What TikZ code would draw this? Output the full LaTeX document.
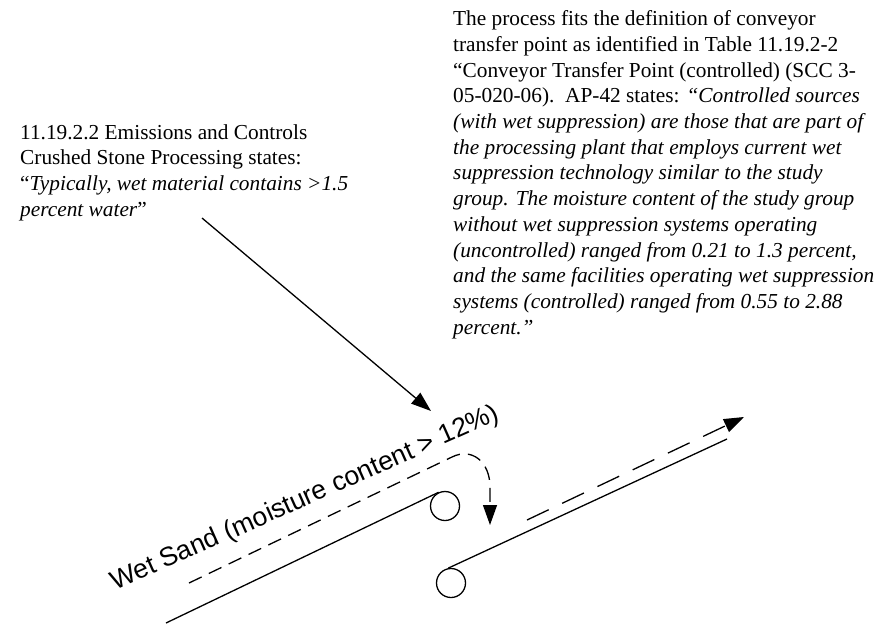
\documentclass[tikz,border=0pt]{standalone}
\usepackage{fontspec}
\setmainfont{Liberation Serif}
\newfontfamily\labelfont{Liberation Sans}
\usetikzlibrary{arrows.meta}
\begin{document}
\begin{tikzpicture}[x=1pt,y=-1pt,
  txt/.style={font=\fontsize{21.33}{25.7}\selectfont, align=left, inner sep=0pt, anchor=north west},
  thick line/.style={line width=1.3pt, draw=black},
  bigtip/.style={-{Triangle[length=20pt,width=14pt]}},
  shortdash/.style={dash pattern=on 14pt off 8pt},
  longdash/.style={dash pattern=on 24pt off 15pt},
  roller/.style={draw=black, circle, line width=1.3pt, minimum size=29pt, inner sep=0pt}]
\useasboundingbox[fill=white] (0,0) rectangle (879,625);

% text blocks
\node[txt] (left) at (20,124) {11.19.2.2 Emissions and Controls\\
Crushed Stone Processing states:\\
“\textit{Typically, wet material contains >1.5}\\
\textit{percent water}”};

\node[txt] (right) at (453,10.5) {The process fits the definition of conveyor\\
transfer point as identified in Table 11.19.2-2\\
“Conveyor Transfer Point (controlled) (SCC 3-\\
05-020-06).\ \ AP-42 states: \textit{“Controlled sources}\\
\textit{(with wet suppression) are those that are part of}\\
\textit{the processing plant that employs current wet}\\
\textit{suppression technology similar to the study}\\
\textit{group. The moisture content of the study group}\\
\textit{without wet suppression systems operating}\\
\textit{(uncontrolled) ranged from 0.21 to 1.3 percent,}\\
\textit{and the same facilities operating wet suppression}\\
\textit{systems (controlled) ranged from 0.55 to 2.88}\\
\textit{percent.”}};

% rollers
\node[roller] (c1) at (445,506) {};
\node[roller] (c2) at (451,583) {};

% conveyors
\coordinate (b1) at (166,623);
\coordinate (b2) at (727,439);
\draw[thick line] (b1) -- (c1.115);
\draw[thick line] (c2.100) -- (b2);

% label
\node[font=\labelfont\fontsize{26.6}{28}\selectfont, rotate=24, anchor=base west, inner sep=0pt] (lab) at (115,591) {Wet Sand (moisture content > 12\%)};

% arrow from quote
\coordinate (a1s) at (202,218);
\coordinate (a1e) at (431,411);
\draw[thick line, bigtip] (a1s) -- (a1e);

% dashed material path
\coordinate (d0) at (189,583);
\coordinate (d1) at (452,457);
\coordinate (d2) at (490,487);
\coordinate (d3) at (490,525);
\draw[thick line, shortdash, bigtip] (d0) -- (d1) .. controls (472,447) and (490,462) .. (d2) -- (d3);

% dashed outgoing
\coordinate (e0) at (527,520);
\coordinate (e1) at (744,417);
\draw[thick line, longdash, bigtip] (e0) -- (e1);
\end{tikzpicture}
\end{document}
